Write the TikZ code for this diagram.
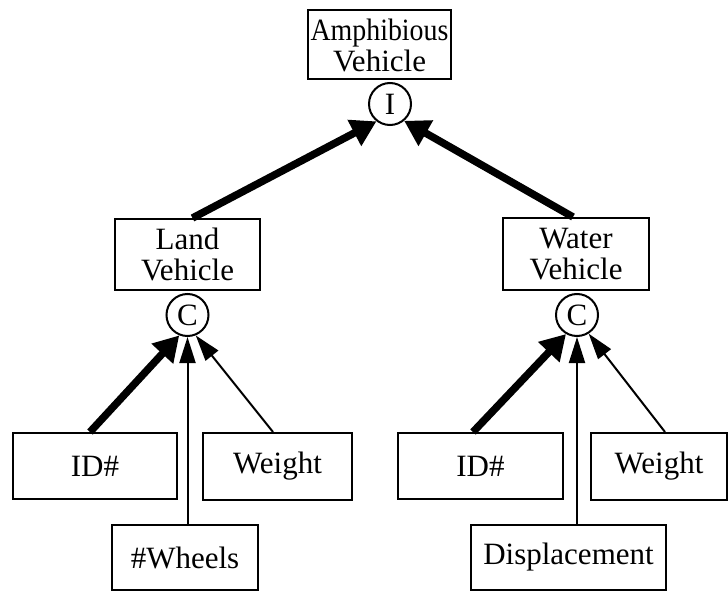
\documentclass[tikz,border=0pt]{standalone}
\usepackage{fontspec}
\usepackage{graphicx}
\setmainfont{Liberation Serif}
\usetikzlibrary{arrows.meta}
\begin{document}
\begin{tikzpicture}[x=1pt,y=-1pt,
  entity/.style={draw, line width=2pt, inner sep=0pt, align=center,
    font=\fontsize{31}{31}\selectfont},
  junction/.style={draw, circle, line width=2pt, minimum size=42pt,
    inner sep=0pt, font=\fontsize{31}{31}\selectfont},
  strong/.style={line width=7.5pt, -{Triangle[length=25pt,width=28pt]}},
  weak/.style={line width=2pt, -{Triangle[length=26pt,width=16pt]}}]

\useasboundingbox[fill=white] (0,0) rectangle (728,591);

% top class and its intersection junction
\node[entity, minimum width=143pt, minimum height=69pt] (amph) at (379.5,45)
  {\scalebox{0.9}[1]{Amphibious}\\Vehicle};
\node[junction] (ci) at (390,104) {I};

% the two parent classes with their composition junctions
\node[entity, minimum width=145pt, minimum height=71pt] (land) at (187.5,254.5)
  {Land\\Vehicle};
\node[entity, minimum width=146pt, minimum height=72pt] (water) at (576,254)
  {Water\\Vehicle};
\node[junction] (cl) at (187.5,315) {C};
\node[junction] (cr) at (577,315) {C};

% attributes
\node[entity, minimum width=164pt, minimum height=66pt] (id1) at (95,466) {ID\#};
\node[entity, minimum width=149pt, minimum height=67pt] (wt1) at (277.5,466.5) {Weight};
\node[entity, minimum width=146pt, minimum height=65pt] (wh) at (185,557.5) {\#Wheels};
\node[entity, minimum width=165pt, minimum height=66pt] (id2) at (480.5,466) {ID\#};
\node[entity, minimum width=136pt, minimum height=67pt] (wt2) at (659,466.5) {Weight};
\node[entity, minimum width=195pt, minimum height=65pt] (disp) at (568.5,557.5) {Displacement};

% connectors
\draw[strong] ([xshift=5pt]land.north) -- (ci.232);
\draw[strong] ([xshift=-3pt]water.north) -- (ci.310);

\draw[strong] ([xshift=-5pt]id1.north) -- (cl.248);
\draw[weak] (wh.north -| cl.south) -- (cl.south);
\draw[weak] ([xshift=-4.5pt]wt1.north) -- (cl.292);

\draw[strong] ([xshift=-7.5pt]id2.north) -- (cr.240);
\draw[weak] (disp.north -| cr.south) -- (cr.south);
\draw[weak] ([xshift=6pt]wt2.north) -- (cr.302);
\end{tikzpicture}
\end{document}
